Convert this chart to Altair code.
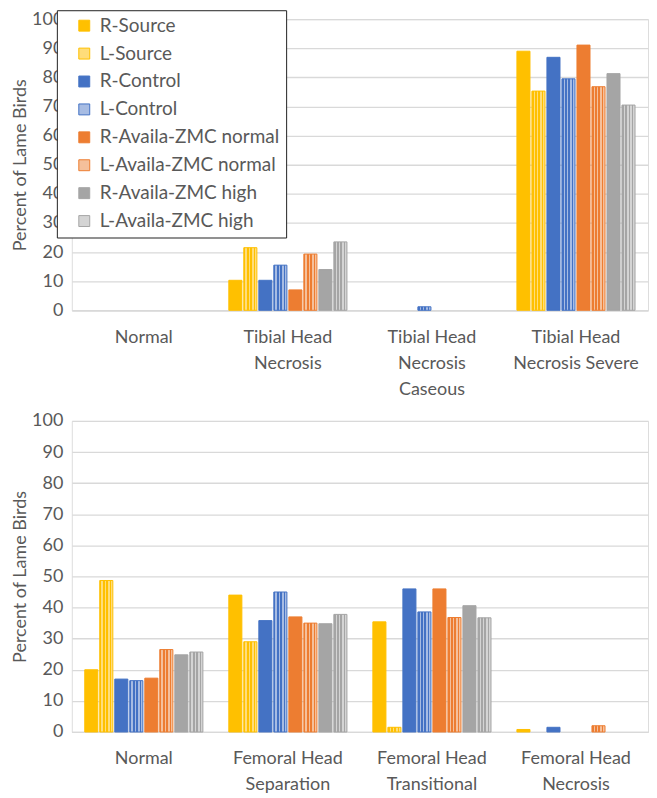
import altair as alt
import pandas as pd

series = ["R-Source", "L-Source", "R-Control", "L-Control",
          "R-Availa-ZMC normal", "L-Availa-ZMC normal",
          "R-Availa-ZMC high", "L-Availa-ZMC high"]

full_colors = ["#FFC000", "#FFC000", "#4472C4", "#4472C4",
               "#ED7D31", "#ED7D31", "#A5A5A5", "#A5A5A5"]
tint_colors = ["#FFC000", "#FFDD7A", "#4472C4", "#A7BCE3",
               "#ED7D31", "#F5C09B", "#A5A5A5", "#D4D4D4"]

# Top panel (tibial)
top_categories = ["Normal", "Tibial Head\nNecrosis",
                  "Tibial Head\nNecrosis\nCaseous",
                  "Tibial Head\nNecrosis Severe"]
top_r_source = [0, 10.3, 0, 89.0]
top_l_source = [0, 21.5, 0, 75.3]
top_r_control = [0, 10.3, 0, 86.9]
top_l_control = [0, 15.5, 1.2, 79.5]
top_r_zmc_normal = [0, 7.0, 0, 91.1]
top_l_zmc_normal = [0, 19.3, 0, 76.8]
top_r_zmc_high = [0, 14.0, 0, 81.3]
top_l_zmc_high = [0, 23.5, 0, 70.5]

# Bottom panel (femoral)
bottom_categories = ["Normal", "Femoral Head\nSeparation",
                     "Femoral Head\nTransitional", "Femoral Head\nNecrosis"]
bot_r_source = [20.0, 44.0, 35.4, 0.8]
bot_l_source = [48.7, 29.0, 1.5, 0]
bot_r_control = [17.0, 35.8, 46.0, 1.5]
bot_l_control = [16.5, 45.0, 38.6, 0]
bot_r_zmc_normal = [17.3, 37.0, 46.0, 0]
bot_l_zmc_normal = [26.5, 35.0, 36.8, 2.0]
bot_r_zmc_high = [24.8, 34.8, 40.6, 0]
bot_l_zmc_high = [25.7, 37.8, 36.7, 0]

y_ticks = list(range(0, 101, 10))

FONT = "Lato"
TXT = "#595959"


def to_frame(cats, cols):
    rows = []
    for s, vals in zip(series, cols):
        for c, v in zip(cats, vals):
            rows.append({"category": c, "series": s, "value": v})
    return pd.DataFrame(rows)


top_df = to_frame(top_categories, [top_r_source, top_l_source, top_r_control,
                                   top_l_control, top_r_zmc_normal,
                                   top_l_zmc_normal, top_r_zmc_high,
                                   top_l_zmc_high])
bot_df = to_frame(bottom_categories, [bot_r_source, bot_l_source, bot_r_control,
                                      bot_l_control, bot_r_zmc_normal,
                                      bot_l_zmc_normal, bot_r_zmc_high,
                                      bot_l_zmc_high])


def stripes(color, n=4):
    stops = []
    step = 1.0 / (2 * n)
    for i in range(2 * n):
        c = color if i % 2 == 0 else "rgba(255,255,255,0)"
        stops.append(alt.GradientStop(offset=i * step, color=c))
        stops.append(alt.GradientStop(offset=(i + 1) * step, color=c))
    return alt.LinearGradient(gradient="linear", stops=stops,
                              x1=0, x2=1, y1=0, y2=0)


def panel(df, cats, height, show_legend):
    x = alt.X("category:N", sort=cats,
              scale=alt.Scale(domain=cats, paddingInner=0.18, paddingOuter=0.09),
              axis=alt.Axis(title=None, labelAngle=0, ticks=False,
                            labelExpr="split(datum.label, '\\n')",
                            labelPadding=18, labelLineHeight=26,
                            labelFontSize=18, labelColor=TXT, labelFont=FONT,
                            domainColor="#D9D9D9", domainWidth=1.3,
                            labelLimit=0))
    xo = alt.XOffset("series:N", sort=series,
                     scale=alt.Scale(domain=series, paddingInner=0.13))
    y = alt.Y("value:Q", scale=alt.Scale(domain=[0, 100], nice=False),
              axis=alt.Axis(values=y_ticks, title="Percent of Lame Birds",
                            titleFont=FONT, titleFontSize=18, titleColor=TXT,
                            titleFontWeight="normal", titlePadding=2,
                            labelFont=FONT, labelFontSize=18, labelColor=TXT,
                            labelPadding=9, domain=False, ticks=False,
                            gridColor="#D9D9D9", gridWidth=1.3))
    if show_legend:
        leg = alt.Legend(title=None, orient="none", legendX=-15, legendY=-9,
                         strokeColor="#222222", fillColor="white", padding=6,
                         labelFont=FONT, labelFontSize=19, labelColor=TXT,
                         labelLimit=0,
                         symbolType="square", symbolSize=120,
                         symbolStrokeWidth=1, rowPadding=8, symbolOffset=12,
                         labelOffset=6,
                         labelExpr="datum.label + '     '")
    else:
        leg = None
    base = alt.Chart(df).transform_filter("datum.value > 0").mark_bar(
        strokeWidth=1).encode(
        x=x, xOffset=xo, y=y,
        fill=alt.Fill("series:N", sort=series,
                      scale=alt.Scale(domain=series, range=tint_colors),
                      legend=leg),
        stroke=alt.Stroke("series:N", sort=series,
                          scale=alt.Scale(domain=series, range=full_colors),
                          legend=leg),
    )
    layers = [base]
    for s, col in zip(series, full_colors):
        if s.startswith("L-"):
            layers.append(
                alt.Chart(df).transform_filter(
                    f"datum.value > 0 && datum.series == '{s}'").mark_bar(
                    fill=stripes(col)).encode(x=x, xOffset=xo, y=y)
            )
    return alt.layer(*layers).properties(width=578, height=height)


top = panel(top_df, top_categories, 292, True)
bottom = panel(bot_df, bottom_categories, 312, False)

chart = alt.vconcat(
    top, bottom, spacing=12,
    padding={"left": 3, "top": 0, "right": 0, "bottom": 0},
).resolve_scale(
    fill="independent", stroke="independent", x="independent"
).configure_view(stroke=None).configure(background="white")

chart.save("out.html", embed_options={"renderer": "svg", "actions": False})
